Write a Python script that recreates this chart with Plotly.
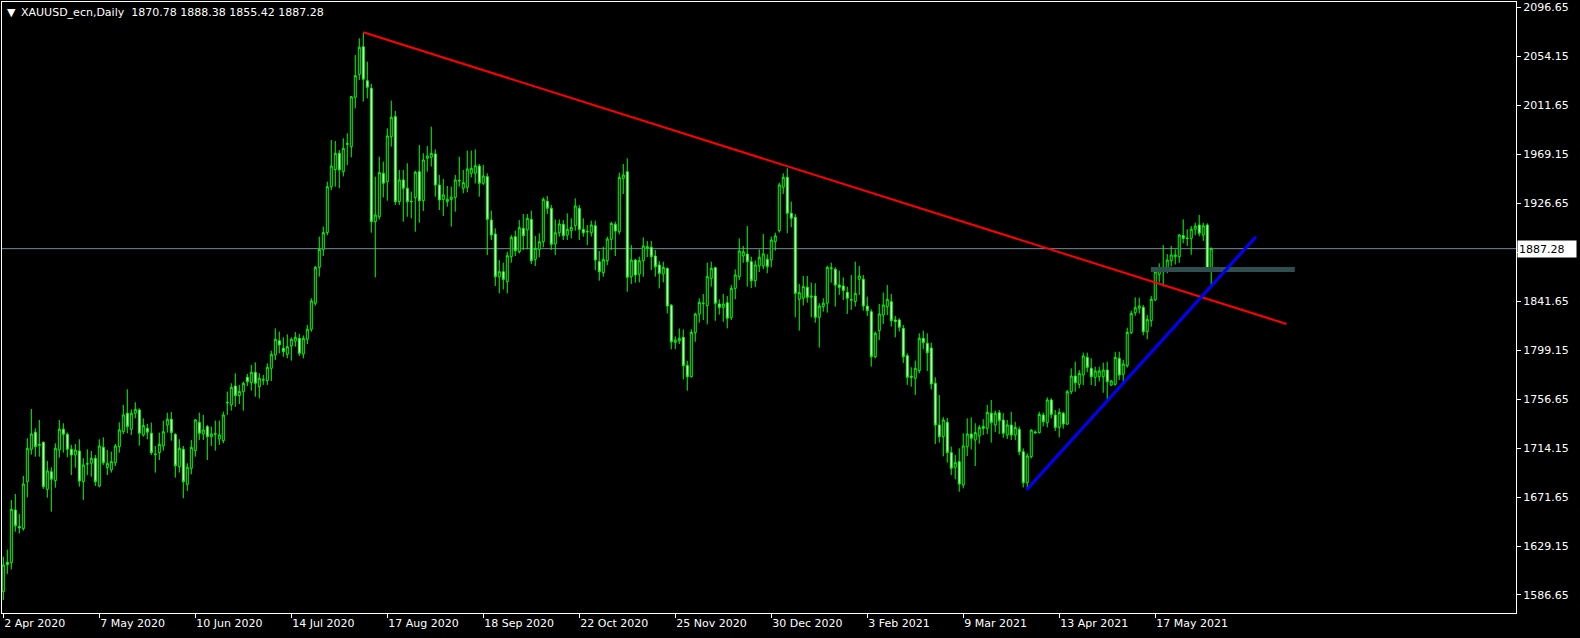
import plotly.graph_objects as go

# ---------------- data (XAUUSD daily) ----------------
opens = [
1589.5,1615.0,1614.7,1660.4,1646.0,1644.2,1685.0,1713.1,1727.9,1716.5,
1719.2,1678.4,1693.7,1685.9,1712.5,1730.5,1726.1,1713.1,1708.2,1711.7,
1685.0,1700.2,1701.0,1705.3,1681.3,1714.8,1697.2,1695.2,1701.5,1715.4,
1728.4,1744.4,1730.5,1744.4,1747.3,1725.5,1731.3,1727.0,1708.6,1710.2,
1716.0,1734.2,1739.2,1726.1,1698.0,1713.1,1682.7,1696.6,1712.0,1736.5,
1726.4,1732.8,1724.1,1726.2,1722.1,1720.6,1753.4,1751.6,1768.1,1759.7,
1763.1,1775.6,1771.0,1779.9,1767.5,1773.1,1772.7,1783.4,1795.0,1807.4,
1800.8,1795.6,1802.8,1807.1,1809.4,1795.8,1808.6,1817.3,1839.8,1871.1,
1886.7,1901.2,1941.1,1956.0,1970.0,1954.1,1977.8,1975.8,2018.7,2038.6,
2062.6,2033.1,2026.5,1910.7,1915.0,1952.7,1945.4,1984.5,2001.9,1928.1,
1946.9,1939.7,1928.0,1931.6,1954.1,1928.9,1965.7,1966.6,1969.5,1942.5,
1930.0,1928.1,1930.0,1931.8,1946.1,1939.7,1940.5,1952.7,1952.7,1959.0,
1944.0,1949.8,1912.1,1900.0,1862.9,1867.3,1858.6,1880.3,1897.7,1884.6,
1904.9,1903.5,1912.7,1878.0,1886.7,1893.3,1928.4,1922.3,1891.3,1901.1,
1908.4,1899.1,1902.9,1907.2,1922.3,1904.0,1901.8,1901.1,1907.2,1876.0,
1866.4,1876.8,1895.4,1908.4,1902.0,1948.3,1954.1,1862.9,1877.4,1865.2,
1876.8,1887.5,1888.4,1880.9,1873.1,1865.2,1870.2,1838.1,1805.9,1807.3,
1810.3,1785.9,1776.1,1814.3,1830.5,1839.5,1837.8,1861.5,1870.8,1839.2,
1836.3,1840.4,1827.6,1852.8,1863.0,1881.0,1882.6,1876.0,1859.5,1872.3,
1872.3,1878.0,1877.5,1893.4,1902.9,1940.6,1949.2,1918.0,1914.5,1843.3,
1844.2,1853.8,1845.1,1846.2,1827.7,1837.0,1839.9,1869.9,1869.4,1855.7,
1854.9,1849.4,1843.0,1841.3,1860.7,1860.7,1837.5,1832.6,1793.5,1816.1,
1829.7,1836.9,1841.3,1825.4,1825.4,1818.1,1794.4,1776.6,1774.7,1781.4,
1809.5,1805.1,1801.0,1770.4,1734.2,1724.1,1736.5,1710.2,1697.5,1702.4,
1682.1,1715.4,1726.4,1721.2,1724.7,1732.8,1731.3,1744.4,1734.2,1744.9,
1738.5,1725.5,1734.2,1725.5,1730.4,1711.0,1684.1,1706.7,1728.1,1727.5,
1742.8,1736.2,1755.9,1742.8,1732.1,1744.3,1735.0,1763.1,1776.7,1769.5,
1777.6,1792.9,1783.4,1775.6,1776.1,1776.1,1781.9,1768.9,1769.5,1792.1,
1778.2,1785.7,1814.3,1831.7,1835.5,1836.3,1815.2,1824.8,1842.7,1865.0,
1867.3,1868.7,1876.8,1880.3,1880.3,1898.6,1896.5,1896.2,1904.1,1907.8,
1899.1,1907.8,1870.78]

highs = [
1619.9,1626.0,1669.1,1674.3,1657.0,1690.0,1722.7,1748.1,1731.3,1738.6,
1719.8,1703.0,1697.5,1718.3,1738.6,1735.7,1727.6,1716.9,1717.7,1721.8,
1705.3,1713.1,1711.7,1708.2,1721.8,1723.5,1712.5,1711.1,1717.7,1736.5,
1751.6,1765.2,1747.8,1753.9,1748.7,1740.0,1735.1,1736.3,1716.0,1727.6,
1738.0,1744.9,1745.5,1727.0,1721.8,1716.0,1701.0,1721.2,1739.4,1744.9,
1742.9,1734.2,1732.8,1738.0,1738.0,1745.8,1763.2,1770.4,1779.1,1768.9,
1771.8,1778.5,1786.3,1788.6,1779.1,1777.6,1787.7,1798.7,1818.1,1815.2,
1810.3,1812.9,1810.3,1814.9,1813.2,1812.0,1821.0,1844.2,1872.2,1897.7,
1906.4,1945.4,1981.6,1980.8,1972.9,1983.1,1987.4,2019.8,2055.4,2069.9,
2074.8,2049.6,2030.2,1949.8,1967.1,1962.8,1991.7,2015.8,2006.8,1955.6,
1955.6,1961.4,1936.8,1955.0,1977.3,1970.1,1976.4,1993.2,1973.5,1951.2,
1947.8,1941.7,1941.1,1951.2,1967.1,1955.6,1972.4,1972.4,1973.5,1960.8,
1959.9,1952.7,1920.3,1904.9,1877.4,1875.1,1884.6,1899.1,1902.9,1912.1,
1917.4,1917.4,1920.3,1898.3,1900.6,1931.8,1933.0,1925.2,1912.7,1912.7,
1912.1,1917.9,1913.6,1930.9,1925.2,1913.6,1907.8,1911.6,1911.6,1885.2,
1889.0,1897.7,1910.7,1910.7,1953.2,1960.8,1965.7,1890.4,1878.5,1880.3,
1897.1,1894.0,1893.9,1886.1,1876.5,1876.0,1870.8,1839.2,1811.0,1818.0,
1817.2,1790.0,1817.2,1831.7,1844.1,1847.9,1875.1,1876.0,1871.6,1843.3,
1847.9,1846.2,1855.7,1869.3,1896.2,1889.6,1906.9,1880.3,1877.0,1886.7,
1900.0,1882.4,1897.7,1901.2,1944.6,1952.7,1957.1,1928.1,1917.4,1856.6,
1863.6,1863.6,1857.8,1857.2,1839.9,1844.2,1872.3,1875.1,1871.1,1868.2,
1862.4,1854.3,1864.4,1876.0,1872.3,1864.4,1845.6,1834.6,1815.3,1839.3,
1849.1,1855.7,1847.9,1828.9,1826.8,1821.0,1796.4,1784.3,1790.1,1813.8,
1816.1,1813.8,1805.7,1775.6,1760.3,1741.0,1740.3,1715.4,1708.2,1714.0,
1727.0,1740.0,1740.9,1735.7,1734.2,1739.2,1751.6,1755.9,1746.7,1747.3,
1744.5,1738.5,1745.7,1737.0,1732.8,1713.9,1709.6,1730.4,1729.5,1745.7,
1745.0,1758.2,1757.3,1747.2,1748.6,1745.7,1764.6,1783.4,1789.2,1781.9,
1797.0,1797.0,1792.1,1784.8,1784.8,1788.3,1789.2,1773.2,1797.8,1797.8,
1790.6,1818.7,1833.4,1845.0,1844.7,1838.4,1829.7,1846.2,1870.2,1874.5,
1890.4,1882.6,1889.6,1886.7,1900.0,1912.7,1904.1,1907.0,1909.8,1916.5,
1909.8,1909.3,1888.38]

lows = [
1582.3,1605.0,1608.9,1641.6,1640.0,1642.5,1671.4,1708.5,1706.7,1706.7,
1678.7,1671.1,1659.0,1679.8,1705.9,1710.2,1706.2,1690.8,1697.2,1680.7,
1669.1,1690.8,1689.4,1681.3,1680.1,1699.5,1690.8,1692.9,1698.6,1710.2,
1726.4,1727.0,1725.5,1740.0,1716.3,1724.1,1721.8,1708.2,1692.9,1703.8,
1711.9,1727.6,1720.6,1688.5,1692.9,1670.6,1676.9,1691.4,1706.7,1721.2,
1721.2,1703.8,1716.0,1712.0,1716.9,1718.3,1742.9,1746.7,1750.0,1752.4,
1746.6,1768.0,1764.0,1758.8,1757.3,1769.0,1769.0,1772.4,1790.6,1796.4,
1793.5,1792.1,1790.1,1802.2,1794.1,1792.0,1804.5,1815.2,1837.8,1863.0,
1880.9,1899.0,1938.0,1941.1,1939.7,1950.0,1959.9,1966.6,2009.1,2033.7,
2014.9,2017.8,1901.1,1862.4,1912.7,1931.8,1928.9,1975.8,1925.2,1925.2,
1910.7,1915.0,1913.6,1902.0,1909.8,1920.0,1954.1,1958.5,1932.4,1920.8,
1915.6,1923.7,1906.4,1919.4,1941.1,1935.3,1936.2,1949.2,1944.0,1932.4,
1942.5,1881.8,1894.8,1854.9,1848.5,1851.9,1848.5,1875.1,1880.9,1883.2,
1886.1,1886.7,1873.9,1872.2,1879.7,1888.4,1917.4,1886.1,1881.8,1897.7,
1894.8,1894.8,1896.2,1902.9,1894.8,1897.7,1890.4,1897.7,1868.7,1859.5,
1862.9,1873.0,1886.1,1880.9,1899.7,1934.7,1849.9,1856.6,1857.7,1858.0,
1862.9,1880.0,1868.7,1863.0,1852.8,1858.0,1831.1,1799.9,1800.0,1804.5,
1773.8,1764.0,1775.5,1806.5,1823.0,1825.3,1821.6,1854.3,1824.7,1830.0,
1823.9,1818.1,1825.3,1843.3,1860.0,1875.0,1854.3,1853.0,1854.0,1867.0,
1869.4,1866.0,1871.0,1885.6,1901.2,1934.8,1900.6,1906.0,1827.7,1816.1,
1838.0,1840.4,1827.7,1823.0,1801.4,1832.6,1831.8,1857.8,1837.0,1847.1,
1842.7,1830.6,1834.1,1837.0,1847.1,1833.5,1828.9,1784.9,1792.1,1808.0,
1822.0,1829.7,1819.6,1810.3,1815.3,1788.0,1769.0,1767.5,1760.3,1779.1,
1800.0,1781.0,1765.2,1717.7,1718.9,1707.0,1701.5,1690.8,1687.1,1676.3,
1679.2,1707.3,1713.0,1698.6,1718.0,1725.5,1726.4,1718.9,1728.0,1726.4,
1723.0,1722.0,1721.2,1721.0,1708.0,1680.0,1677.7,1705.2,1726.5,1726.9,
1733.0,1732.1,1740.0,1729.0,1723.5,1731.0,1734.2,1761.0,1763.1,1766.0,
1768.9,1780.0,1768.9,1768.0,1772.0,1762.2,1755.9,1768.0,1768.5,1773.2,
1771.8,1784.0,1813.2,1829.0,1831.0,1812.0,1808.6,1819.5,1842.0,1858.0,
1854.3,1866.0,1872.0,1873.5,1875.0,1892.0,1889.6,1882.0,1899.0,1898.0,
1894.0,1868.0,1855.42]

closes = [
1612.7,1613.0,1661.0,1646.8,1645.0,1683.0,1714.0,1726.4,1715.4,1717.2,
1680.7,1694.3,1687.1,1714.0,1730.5,1726.1,1713.1,1708.2,1712.5,1685.6,
1699.5,1700.6,1705.3,1685.0,1716.0,1701.5,1700.9,1702.4,1716.0,1729.9,
1742.9,1732.8,1744.4,1747.8,1727.0,1733.7,1727.9,1710.2,1709.0,1717.4,
1728.4,1739.2,1727.6,1698.9,1714.0,1685.0,1697.5,1714.8,1738.6,1727.0,
1729.9,1724.1,1726.4,1726.6,1725.5,1742.9,1753.8,1766.9,1759.7,1763.4,
1770.4,1771.8,1779.9,1770.4,1774.7,1773.5,1784.3,1795.6,1808.6,1803.7,
1797.9,1802.2,1808.6,1810.3,1796.4,1809.4,1817.3,1841.9,1871.1,1886.7,
1901.2,1941.1,1959.0,1970.0,1955.6,1974.4,1978.4,2019.2,2037.5,2062.1,
2034.3,2027.3,1910.7,1916.5,1953.3,1944.0,1985.1,2001.3,1928.1,1946.9,
1939.7,1928.1,1928.3,1953.6,1928.9,1964.3,1967.7,1970.0,1942.5,1929.5,
1933.9,1930.1,1932.0,1946.9,1946.5,1944.6,1956.4,1957.0,1959.3,1944.0,
1950.4,1912.7,1899.1,1863.0,1867.3,1860.6,1881.2,1897.1,1885.5,1905.5,
1898.5,1913.6,1876.8,1887.5,1893.3,1930.1,1922.3,1891.0,1901.1,1908.7,
1898.5,1904.0,1905.8,1924.3,1904.0,1901.1,1902.2,1907.8,1877.4,1867.3,
1878.0,1895.6,1909.2,1902.6,1949.2,1951.2,1862.4,1877.4,1864.4,1876.8,
1889.6,1889.0,1880.3,1871.6,1865.8,1871.0,1837.5,1806.5,1807.9,1809.4,
1785.7,1776.1,1814.6,1830.5,1840.7,1839.8,1863.0,1870.2,1839.8,1836.3,
1839.2,1826.8,1852.8,1864.4,1885.2,1884.6,1876.0,1859.5,1873.1,1879.8,
1882.7,1871.7,1894.8,1898.3,1942.6,1949.2,1918.0,1913.7,1848.5,1849.1,
1854.3,1845.1,1846.2,1827.7,1837.5,1839.9,1871.1,1870.5,1855.7,1853.7,
1850.9,1844.2,1842.7,1848.5,1863.6,1837.5,1833.5,1793.5,1813.8,1830.6,
1838.4,1843.3,1824.8,1824.0,1819.0,1793.5,1775.6,1775.6,1783.4,1809.5,
1805.7,1797.0,1769.8,1734.2,1724.1,1738.6,1710.2,1696.6,1701.5,1683.0,
1716.0,1726.4,1722.7,1727.6,1731.9,1731.3,1745.2,1736.3,1744.4,1738.0,
1727.0,1734.2,1725.5,1732.1,1711.0,1684.1,1707.3,1729.8,1727.5,1743.4,
1737.1,1755.9,1743.4,1732.1,1745.2,1735.0,1763.1,1776.7,1770.9,1779.0,
1794.1,1784.2,1776.1,1781.1,1781.1,1781.9,1771.8,1772.4,1792.9,1777.6,
1787.1,1814.6,1831.1,1836.0,1837.5,1815.2,1825.9,1843.3,1867.3,1868.7,
1871.1,1877.4,1881.8,1881.8,1899.1,1896.2,1896.2,1904.1,1906.9,1900.6,
1907.2,1870.2,1887.28]

bars = list(range(len(closes)))

date_ticks = [0, 24, 48, 72, 96, 120, 144, 168, 192, 216, 240, 264, 288]
date_labels = ["2 Apr 2020", "7 May 2020", "10 Jun 2020", "14 Jul 2020",
               "17 Aug 2020", "18 Sep 2020", "22 Oct 2020", "25 Nov 2020",
               "30 Dec 2020", "3 Feb 2021", "9 Mar 2021", "13 Apr 2021",
               "17 May 2021"]

price_ticks = [1586.65, 1629.15, 1671.65, 1714.15, 1756.65, 1799.15, 1841.65,
               1884.15, 1926.65, 1969.15, 2011.65, 2054.15, 2096.65]

symbol = "XAUUSD_ecn,Daily"
last_price = 1887.28

# trend objects (bar index, price)
red_line = dict(x0=90, y0=2075.1, x1=320.8, y1=1821.9)
blue_line = dict(x0=255.8, y0=1677.8, x1=313.2, y1=1897.7)
zone = dict(x0=286.9, x1=322.9, y0=1867.1, y1=1871.4)

# ---------------- figure ----------------
W, H = 1580, 638
L_, R_, T_, B_ = 2, 64, 2, 25
PW, PH = W - L_ - R_, H - T_ - B_
FONT = "DejaVu Sans"

def px_x(px):
    return (px - L_) / PW

def px_y(py):
    return (H - B_ - py) / PH

fig = go.Figure(go.Candlestick(
    x=bars, open=opens, high=highs, low=lows, close=closes,
    increasing=dict(line=dict(color="#00FF00", width=1), fillcolor="#000000"),
    decreasing=dict(line=dict(color="#00FF00", width=1), fillcolor="#FFFFFF"),
    whiskerwidth=0, hoverinfo="skip", showlegend=False,
))

fig.update_layout(
    width=W, height=H,
    margin=dict(l=L_, r=R_, t=T_, b=B_, pad=0),
    paper_bgcolor="#000000", plot_bgcolor="#000000",
    boxgap=0.5, boxgroupgap=0,
    showlegend=False,
    font=dict(family=FONT, size=11, color="#FFFFFF"),
    xaxis=dict(
        range=[-0.33, 378.2], rangeslider=dict(visible=False),
        showgrid=False, zeroline=False,
        showline=True, linecolor="#FFFFFF", linewidth=1, mirror=True,
        ticks="outside", ticklen=4, tickcolor="#FFFFFF", tickwidth=1,
        tickvals=date_ticks, ticktext=date_labels,
        ticklabelposition="outside right",
        tickfont=dict(family=FONT, size=11, color="#FFFFFF"),
        fixedrange=True,
    ),
    yaxis=dict(
        range=[1571.0, 2101.4], side="right",
        showgrid=False, zeroline=False,
        showline=True, linecolor="#FFFFFF", linewidth=1, mirror=True,
        ticks="outside", ticklen=4, tickcolor="#FFFFFF", tickwidth=1,
        tickvals=price_ticks, ticktext=[f"{v:.2f}" for v in price_ticks],
        tickfont=dict(family=FONT, size=11, color="#FFFFFF"),
        fixedrange=True,
    ),
)

shapes = [
    dict(type="line", xref="paper", yref="y", x0=0, x1=1, y0=last_price, y1=last_price,
         line=dict(color="#778899", width=1), layer="below"),
    dict(type="rect", xref="x", yref="y", **zone, fillcolor="#2F4F4F",
         line=dict(width=0), layer="above"),
    dict(type="line", xref="x", yref="y", **red_line,
         line=dict(color="#FF0000", width=2), layer="above"),
    dict(type="line", xref="x", yref="y", **blue_line,
         line=dict(color="#0000FF", width=3), layer="above"),
]
fig.update_layout(shapes=shapes)

annotations = [
    dict(xref="paper", yref="paper", x=px_x(5), y=px_y(12), xanchor="left", yanchor="middle",
         text="\u25BC", showarrow=False, font=dict(family=FONT, size=11, color="#FFFFFF")),
    dict(xref="paper", yref="paper", x=px_x(19), y=px_y(12.5), xanchor="left", yanchor="middle",
         text=f"{symbol}\u00a0\u00a0{opens[-1]:.2f} {highs[-1]:.2f} {lows[-1]:.2f} {closes[-1]:.2f}",
         showarrow=False, font=dict(family=FONT, size=11, color="#FFFFFF")),
    dict(xref="paper", yref="y", x=1, y=last_price, xanchor="left", yanchor="middle",
         xshift=1, text=f"{last_price:.2f}", showarrow=False,
         bgcolor="#FFFFFF", borderpad=1, width=56, height=14, align="left",
         font=dict(family=FONT, size=11, color="#000000")),
]
fig.update_layout(annotations=annotations)

fig.write_html("out.html", include_plotlyjs=True, full_html=True,
               config=dict(displayModeBar=False, staticPlot=True),
               post_script="document.body.style.margin='0';document.body.style.overflow='hidden';")
